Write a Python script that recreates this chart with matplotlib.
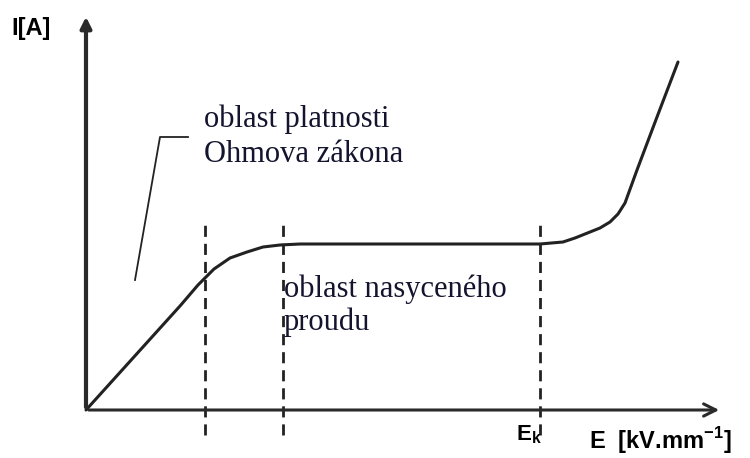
import matplotlib.pyplot as plt

# prubeh proudu I v zavislosti na intenzite pole E
E_krivka = [0, 94, 112, 120, 128, 144, 161, 177, 194, 214, 454, 477, 489, 504, 514, 524, 532, 539, 551, 571, 592]
I_krivka = [0, 104, 125, 133, 141, 152, 158, 163, 165, 166, 166, 168, 172, 178, 182, 188, 196, 207, 240, 293, 348]

# svisle carkovane hranice oblasti
E_hranice = [119, 197, 454]
I_hranice = (-25, 185)

# odkazova cara k popisku Ohmova zakona
E_odkaz = [49, 74, 102]
I_odkaz = [130, 273, 273]

fig = plt.figure(figsize=(7.5, 4.58), dpi=100)
ax = fig.add_axes([0, 0, 1, 1])
ax.set_xlim(-86, 664)
ax.set_ylim(-48, 410)
ax.axis('off')

# osy se sipkami
ax.annotate('', xy=(0, 396), xytext=(0, 0),
            arrowprops=dict(arrowstyle='-|>', color='#2a2a2a', lw=3, mutation_scale=16))
ax.annotate('', xy=(636, 0), xytext=(0, 0),
            arrowprops=dict(arrowstyle='->', color='#2a2a2a', lw=2.2, mutation_scale=22))

ax.plot(E_krivka, I_krivka, color='#222222', lw=2.2, solid_capstyle='round', solid_joinstyle='round')

for e in E_hranice:
    ax.plot([e, e], I_hranice, color='#222222', lw=2, ls=(0, (4, 2.5)))

ax.plot(E_odkaz, I_odkaz, color='#222222', lw=1.3)

serif = ['Liberation Serif', 'DejaVu Serif']
barva_textu = '#14142e'
ax.text(118, 291, 'oblast platnosti', family=serif, fontsize=22, color=barva_textu, va='center')
ax.text(118, 256, 'Ohmova zákona', family=serif, fontsize=22, color=barva_textu, va='center')
ax.text(198, 121, 'oblast nasyceného', family=serif, fontsize=22, color=barva_textu, va='center')
ax.text(198, 88, 'proudu', family=serif, fontsize=22, color=barva_textu, va='center')

ax.text(-75, 381, 'I[A]', family='Liberation Sans', fontweight='bold', fontsize=17, va='center')
ax.text(430, -25, r'E$_\mathregular{k}$', family='Liberation Sans', fontweight='bold', fontsize=16, va='center')
ax.text(503, -31, r'E  [kV.mm$^\mathregular{-1}$]', family='Liberation Sans', fontweight='bold',
        fontsize=17, va='center')

fig.savefig('out.png', dpi=100)
